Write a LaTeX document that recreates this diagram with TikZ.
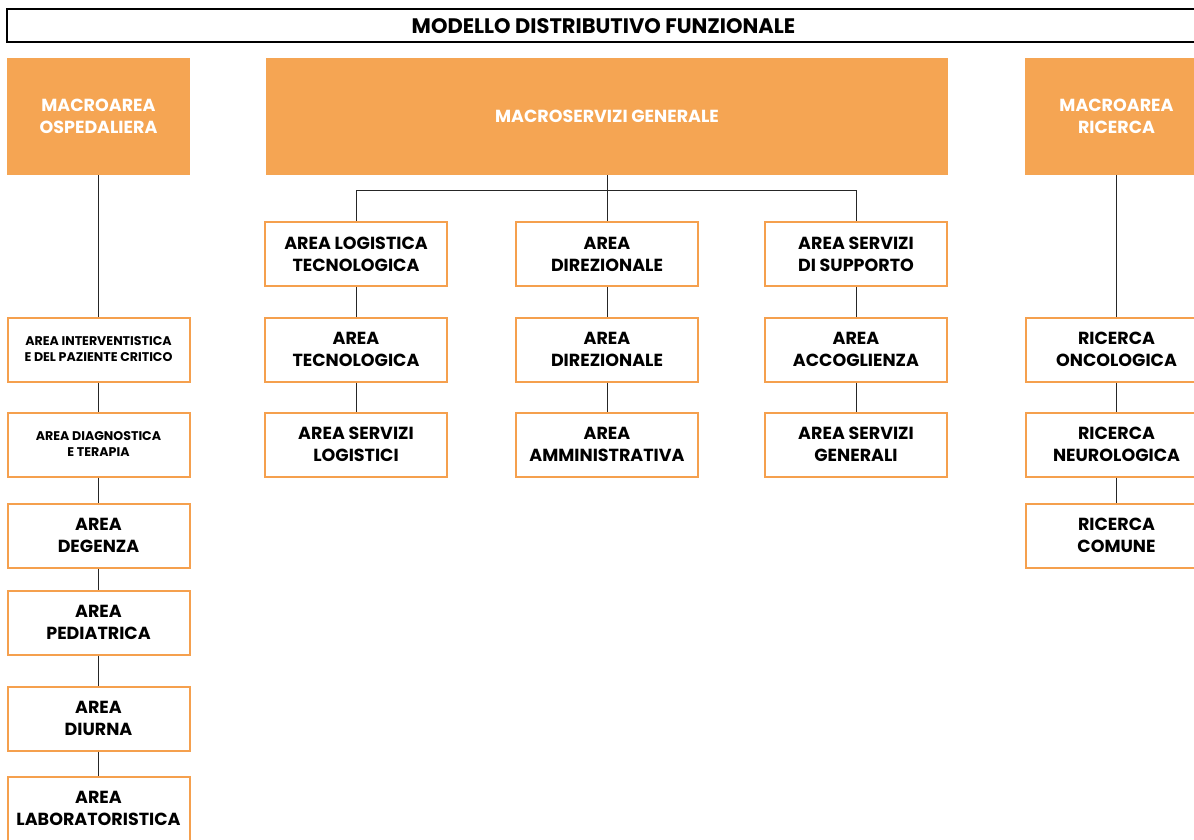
\documentclass[tikz,border=0pt]{standalone}
\usepackage{fontspec}
\setmainfont{Poppins}
\usetikzlibrary{positioning}
\definecolor{macroorange}{HTML}{F5A553}
\definecolor{boxorange}{HTML}{F5A04E}

\begin{document}
\begin{tikzpicture}[
    x=1pt, y=-1pt,
    macro/.style={fill=macroorange, draw=none, text=white, align=center, inner sep=0pt,
        minimum height=117pt, font=\bfseries\fontsize{17.5}{22}\selectfont},
    area/.style={draw=boxorange, line width=2pt, fill=white, align=center, inner sep=0pt,
        minimum width=182pt, minimum height=64pt, font=\bfseries\fontsize{17.5}{22}\selectfont},
    areasmall/.style={area, font=\bfseries\fontsize{12.6}{16}\selectfont},
    link/.style={draw=black!85, line width=0.9pt}
]
\useasboundingbox (0,0) rectangle (1194,840);

% titolo
\node[draw, line width=2pt, minimum width=1193pt, minimum height=33pt, inner sep=0pt,
    font=\bfseries\fontsize{21}{24}\selectfont] (Titolo) at (603.5,26) {MODELLO DISTRIBUTIVO FUNZIONALE};

% macroaree
\node[macro, minimum width=183pt] (MacroOsp) at (98.5,116.5) {MACROAREA\\OSPEDALIERA};
\node[macro, minimum width=682pt] (MacroServ) at (607,116.5) {MACROSERVIZI GENERALE};
\node[macro, minimum width=183pt] (MacroRic) at (1116.5,116.5) {MACROAREA\\RICERCA};

% macroarea ospedaliera
\node[areasmall] (AreaInt) at (98.5,349.5) {AREA INTERVENTISTICA\\E DEL PAZIENTE CRITICO};
\node[areasmall] (AreaDia) at (98.5,444.5) {AREA DIAGNOSTICA\\E TERAPIA};
\node[area] (AreaDeg) at (98.5,535.5) {AREA\\DEGENZA};
\node[area] (AreaPed) at (98.5,622.5) {AREA\\PEDIATRICA};
\node[area] (AreaDiu) at (98.5,718.5) {AREA\\DIURNA};
\node[area] (AreaLab) at (98.5,808.5) {AREA\\LABORATORISTICA};

% macroservizi generale
\node[area] (LogTec) at (356,254) {AREA LOGISTICA\\TECNOLOGICA};
\node[area] (Tec) at (356,349.5) {AREA\\TECNOLOGICA};
\node[area] (ServLog) at (356,444.5) {AREA SERVIZI\\LOGISTICI};
\node[area] (Dir) at (607,254) {AREA\\DIREZIONALE};
\node[area] (Dir2) at (607,349.5) {AREA\\DIREZIONALE};
\node[area] (Amm) at (607,444.5) {AREA\\AMMINISTRATIVA};
\node[area] (ServSup) at (856,254) {AREA SERVIZI\\DI SUPPORTO};
\node[area] (Acc) at (856,349.5) {AREA\\ACCOGLIENZA};
\node[area] (ServGen) at (856,444.5) {AREA SERVIZI\\GENERALI};

% macroarea ricerca
\node[area] (RicOnc) at (1116.5,349.5) {RICERCA\\ONCOLOGICA};
\node[area] (RicNeu) at (1116.5,444.5) {RICERCA\\NEUROLOGICA};
\node[area] (RicCom) at (1116.5,535.5) {RICERCA\\COMUNE};

% collegamenti
\coordinate (bus) at (607,190);
\draw[link] (MacroServ.south) -- (bus);
\foreach \n in {LogTec,Dir,ServSup}
    \draw[link] (bus) -| (\n.north);

\foreach \a/\b in {MacroOsp/AreaInt, AreaInt/AreaDia, AreaDia/AreaDeg, AreaDeg/AreaPed,
    AreaPed/AreaDiu, AreaDiu/AreaLab, LogTec/Tec, Tec/ServLog, Dir/Dir2, Dir2/Amm,
    ServSup/Acc, Acc/ServGen, MacroRic/RicOnc, RicOnc/RicNeu, RicNeu/RicCom}
    \draw[link] (\a) -- (\b);
\end{tikzpicture}
\end{document}
